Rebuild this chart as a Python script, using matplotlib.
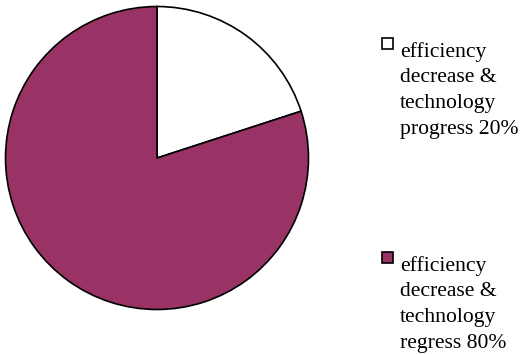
import matplotlib
matplotlib.use("Agg")
import matplotlib.pyplot as plt
from matplotlib.patches import Rectangle

labels = ["efficiency\ndecrease &\ntechnology\nprogress 20%",
          "efficiency\ndecrease &\ntechnology\nregress 80%"]
values = [20, 80]
colors = ["#ffffff", "#993366"]

W, H = 523, 354
fig = plt.figure(figsize=(W / 100, H / 100), dpi=100)
cx, cy, r = 157, 158, 153
ax = fig.add_axes([(cx - r) / W, (H - cy - r) / H, 2 * r / W, 2 * r / H])
ax.pie(values, colors=colors, startangle=90, counterclock=False, radius=1,
       wedgeprops=dict(edgecolor="black", linewidth=1.2))
ax.set_xlim(-1.01, 1.01)
ax.set_ylim(-1.01, 1.01)
ax.set_aspect("auto")
ax.axis("off")

font = dict(family="Liberation Serif", size=15.6)
entries = [(38, 42), (252, 256)]
for (sy, ty), lab, col in zip(entries, labels, colors):
    fig.patches.append(Rectangle((382 / W, (H - sy - 11) / H), 11 / W, 11 / H,
                                 transform=fig.transFigure, facecolor=col,
                                 edgecolor="black", linewidth=1.2))
    fig.text(400 / W, (H - ty) / H, lab, va="top", ha="left",
             linespacing=1.47, **font)

fig.savefig("out.png", dpi=100)
